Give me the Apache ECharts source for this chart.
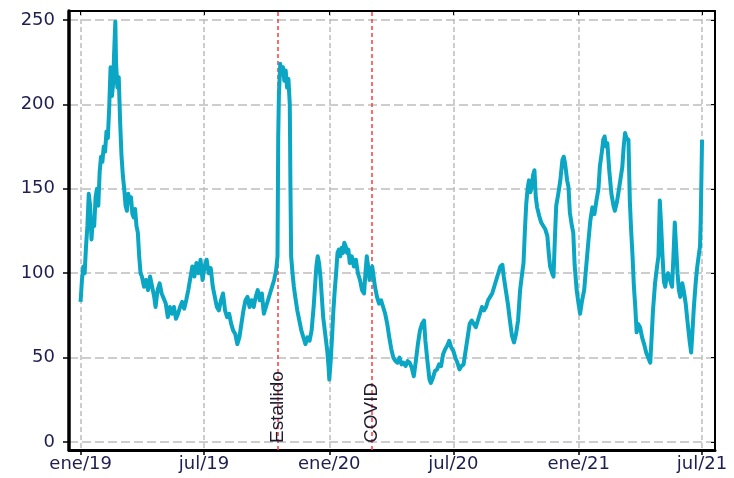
<!DOCTYPE html>
<html>
<head>
<meta charset="utf-8">
<title>Índice diario</title>
<script src="https://cdn.jsdelivr.net/npm/echarts@6/dist/echarts.min.js"></script>
<style>
  html, body { margin: 0; padding: 0; background: #ffffff; }
  #chart { width: 734px; height: 478px; }
</style>
</head>
<body>
<div id="chart"></div>
<script>
// Daily index readings, one array of [date, value] per year
const serie2019 = [
  ['2019-01-01',83],['2019-01-03',96],['2019-01-05',104],['2019-01-07',100],['2019-01-09',116],['2019-01-11',128],
  ['2019-01-13',147],['2019-01-15',140],['2019-01-17',120],['2019-01-19',132],['2019-01-21',128],['2019-01-23',145],
  ['2019-01-25',150],['2019-01-27',140],['2019-01-29',160],['2019-01-31',169],['2019-02-02',166],['2019-02-04',175],
  ['2019-02-06',172],['2019-02-08',184],['2019-02-10',180],['2019-02-12',198],['2019-02-14',222],['2019-02-16',205],
  ['2019-02-18',213],['2019-02-19',228],['2019-02-21',249],['2019-02-22',225],['2019-02-24',210],['2019-02-26',216],
  ['2019-02-28',190],['2019-03-02',170],['2019-03-04',158],['2019-03-06',150],['2019-03-08',140],['2019-03-10',137],
  ['2019-03-12',147],['2019-03-14',142],['2019-03-16',145],['2019-03-18',135],['2019-03-20',133],['2019-03-22',138],
  ['2019-03-24',128],['2019-03-26',124],['2019-03-28',110],['2019-03-30',100],['2019-04-01',98],['2019-04-04',92],
  ['2019-04-07',96],['2019-04-10',90],['2019-04-13',98],['2019-04-16',92],['2019-04-19',86],['2019-04-21',80],
  ['2019-04-24',90],['2019-04-27',94],['2019-04-30',88],['2019-05-03',85],['2019-05-06',82],['2019-05-09',74],
  ['2019-05-12',80],['2019-05-15',76],['2019-05-18',80],['2019-05-21',73],['2019-05-24',76],['2019-05-27',80],
  ['2019-05-30',83],['2019-06-02',79],['2019-06-05',84],['2019-06-08',90],['2019-06-11',97],['2019-06-14',104],
  ['2019-06-17',98],['2019-06-20',106],['2019-06-23',100],['2019-06-26',108],['2019-06-29',96],['2019-07-02',104],
  ['2019-07-05',108],['2019-07-08',100],['2019-07-11',103],['2019-07-14',92],['2019-07-17',86],['2019-07-20',80],
  ['2019-07-23',78],['2019-07-26',84],['2019-07-29',88],['2019-08-01',78],['2019-08-04',74],['2019-08-07',76],
  ['2019-08-10',70],['2019-08-13',66],['2019-08-16',64],['2019-08-19',58],['2019-08-22',62],['2019-08-25',70],
  ['2019-08-28',78],['2019-08-31',84],['2019-09-03',86],['2019-09-06',80],['2019-09-09',84],['2019-09-12',80],
  ['2019-09-15',86],['2019-09-18',90],['2019-09-21',84],['2019-09-24',88],['2019-09-27',76],['2019-09-30',80],
  ['2019-10-03',84],['2019-10-06',88],['2019-10-09',92],['2019-10-12',96],['2019-10-15',102],['2019-10-17',110],
  ['2019-10-18',180],['2019-10-19',205],['2019-10-21',224],['2019-10-23',218],['2019-10-25',222],['2019-10-27',214],
  ['2019-10-29',220],['2019-10-31',210],['2019-11-02',215],['2019-11-04',200],['2019-11-05',150],['2019-11-06',110],
  ['2019-11-08',100],['2019-11-10',92],['2019-11-12',86],['2019-11-15',78],['2019-11-18',72],['2019-11-21',66],
  ['2019-11-24',62],['2019-11-27',58],['2019-11-30',62],['2019-12-03',60],['2019-12-06',66],['2019-12-09',80],
  ['2019-12-11',92],['2019-12-13',104],['2019-12-15',110],['2019-12-17',106],['2019-12-19',98],['2019-12-21',86],
  ['2019-12-23',74],['2019-12-26',64],['2019-12-29',54],['2019-12-31',44]
];
const serie2020 = [
  ['2020-01-01',37],['2020-01-03',48],['2020-01-05',62],['2020-01-07',78],['2020-01-09',90],['2020-01-11',100],
  ['2020-01-13',112],['2020-01-15',114],['2020-01-17',110],['2020-01-19',115],['2020-01-21',112],['2020-01-23',118],
  ['2020-01-25',116],['2020-01-27',112],['2020-01-29',114],['2020-01-31',106],['2020-02-03',110],['2020-02-06',104],
  ['2020-02-09',108],['2020-02-12',100],['2020-02-15',96],['2020-02-18',90],['2020-02-21',88],['2020-02-23',100],
  ['2020-02-25',110],['2020-02-27',104],['2020-02-29',96],['2020-03-02',100],['2020-03-04',104],['2020-03-06',98],
  ['2020-03-08',92],['2020-03-11',86],['2020-03-14',82],['2020-03-17',84],['2020-03-20',80],['2020-03-23',76],
  ['2020-03-26',70],['2020-03-29',62],['2020-04-01',55],['2020-04-04',50],['2020-04-07',48],['2020-04-10',47],
  ['2020-04-13',50],['2020-04-16',46],['2020-04-19',47],['2020-04-22',45],['2020-04-25',48],['2020-04-28',47],
  ['2020-05-01',44],['2020-05-04',39],['2020-05-07',48],['2020-05-10',58],['2020-05-13',66],['2020-05-16',70],
  ['2020-05-19',72],['2020-05-21',60],['2020-05-24',48],['2020-05-27',37],['2020-05-29',35],['2020-06-01',38],
  ['2020-06-04',42],['2020-06-07',43],['2020-06-10',46],['2020-06-13',45],['2020-06-16',52],['2020-06-19',55],
  ['2020-06-22',57],['2020-06-25',60],['2020-06-28',56],['2020-07-01',54],['2020-07-04',50],['2020-07-07',47],
  ['2020-07-10',43],['2020-07-13',45],['2020-07-16',46],['2020-07-19',54],['2020-07-22',62],['2020-07-25',70],
  ['2020-07-28',72],['2020-07-31',70],['2020-08-03',68],['2020-08-06',72],['2020-08-09',76],['2020-08-12',80],
  ['2020-08-15',78],['2020-08-18',80],['2020-08-21',84],['2020-08-24',86],['2020-08-27',88],['2020-08-30',92],
  ['2020-09-02',96],['2020-09-05',100],['2020-09-08',104],['2020-09-11',105],['2020-09-13',98],['2020-09-16',90],
  ['2020-09-19',82],['2020-09-22',72],['2020-09-25',63],['2020-09-28',59],['2020-10-01',64],['2020-10-04',72],
  ['2020-10-07',90],['2020-10-10',100],['2020-10-12',106],['2020-10-14',125],['2020-10-16',141],['2020-10-18',150],
  ['2020-10-20',155],['2020-10-22',148],['2020-10-24',151],['2020-10-26',158],['2020-10-28',161],['2020-10-30',145],
  ['2020-11-01',139],['2020-11-04',134],['2020-11-07',130],['2020-11-10',128],['2020-11-13',126],['2020-11-16',122],
  ['2020-11-18',112],['2020-11-20',104],['2020-11-23',100],['2020-11-25',98],['2020-11-27',120],['2020-11-29',140],
  ['2020-12-02',147],['2020-12-05',155],['2020-12-08',167],['2020-12-10',169],['2020-12-12',165],['2020-12-15',155],
  ['2020-12-17',151],['2020-12-19',136],['2020-12-22',128],['2020-12-24',124],['2020-12-26',105],['2020-12-29',90],
  ['2020-12-31',84]
];
const serie2021 = [
  ['2021-01-03',76],['2021-01-06',84],['2021-01-09',90],['2021-01-12',104],['2021-01-15',118],['2021-01-18',131],
  ['2021-01-21',139],['2021-01-24',135],['2021-01-27',143],['2021-01-30',150],['2021-02-01',163],['2021-02-04',172],
  ['2021-02-06',179],['2021-02-08',181],['2021-02-10',175],['2021-02-12',177],['2021-02-15',160],['2021-02-18',147],
  ['2021-02-21',140],['2021-02-23',137],['2021-02-26',142],['2021-02-28',147],['2021-03-03',155],['2021-03-06',163],
  ['2021-03-08',175],['2021-03-10',183],['2021-03-12',180],['2021-03-15',179],['2021-03-17',143],['2021-03-19',125],
  ['2021-03-21',110],['2021-03-23',92],['2021-03-25',80],['2021-03-27',65],['2021-03-29',70],['2021-04-01',68],
  ['2021-04-04',62],['2021-04-07',58],['2021-04-10',53],['2021-04-13',50],['2021-04-16',47],['2021-04-18',62],
  ['2021-04-20',78],['2021-04-23',94],['2021-04-26',104],['2021-04-28',110],['2021-04-30',143],['2021-05-02',128],
  ['2021-05-04',110],['2021-05-06',95],['2021-05-08',92],['2021-05-10',98],['2021-05-12',100],['2021-05-15',96],
  ['2021-05-18',92],['2021-05-20',110],['2021-05-22',130],['2021-05-24',115],['2021-05-26',100],['2021-05-28',90],
  ['2021-05-30',86],['2021-06-02',94],['2021-06-04',90],['2021-06-07',82],['2021-06-10',70],['2021-06-13',59],
  ['2021-06-15',53],['2021-06-17',66],['2021-06-19',80],['2021-06-22',96],['2021-06-24',104],['2021-06-26',110],
  ['2021-06-28',116],['2021-06-29',130],['2021-07-01',179]
];

// Axis ticks and labels
const yTicks = [0, 50, 100, 150, 200, 250];
const xTickDates = ['2019-01-01', '2019-07-01', '2020-01-01', '2020-07-01', '2021-01-01', '2021-07-01'];
const xTickLabels = ['ene/19', 'jul/19', 'ene/20', 'jul/20', 'ene/21', 'jul/21'];

// Event markers
const eventos = ['Estallido', 'COVID'];
const eventFechas = ['2019-10-18', '2020-03-03'];

// Dates are placed on a numeric axis as UTC milliseconds
function ts(s) {
  const [y, m, d] = s.split('-').map(Number);
  return Date.UTC(y, m - 1, d);
}
const xTickTimes = xTickDates.map(ts);
function xLabel(value) {
  let best = 0;
  for (let i = 1; i < xTickTimes.length; i++) {
    if (Math.abs(xTickTimes[i] - value) < Math.abs(xTickTimes[best] - value)) best = i;
  }
  return xTickLabels[best];
}

const puntos = serie2019.concat(serie2020, serie2021).map(([f, v]) => [ts(f), v]);

const labelFont = { fontFamily: 'DejaVu Sans', fontSize: 18, color: '#1e1e50' };
const xMin = ts('2018-12-15');
const xMax = ts('2021-07-20');
const yMin = -4.7;
const yMax = 255.3;

const chart = echarts.init(document.getElementById('chart'), null, { renderer: 'canvas' });
chart.setOption({
  animation: false,
  backgroundColor: '#ffffff',
  grid: { left: 69, right: 19, top: 11, bottom: 28, containLabel: false },
  xAxis: [
    {
      type: 'value',
      position: 'bottom',
      min: xMin,
      max: xMax,
      axisLine: { show: true, onZero: false, lineStyle: { color: '#000', width: 3 } },
      axisTick: { show: true, inside: false, length: 5, customValues: xTickTimes, lineStyle: { color: '#000', width: 1.5 } },
      axisLabel: { show: true, customValues: xTickTimes, margin: 5, formatter: xLabel, ...labelFont },
      splitLine: { show: true, lineStyle: { color: '#bdbdbd', width: 1.5, type: [5, 3] } }
    },
    {
      type: 'value',
      position: 'top',
      min: xMin,
      max: xMax,
      axisLine: { show: true, onZero: false, lineStyle: { color: '#000', width: 2 } },
      axisTick: { show: true, inside: true, length: 4, customValues: xTickTimes, lineStyle: { color: '#000', width: 1 } },
      axisLabel: { show: false },
      splitLine: { show: false }
    }
  ],
  yAxis: [
    {
      type: 'value',
      position: 'left',
      min: yMin,
      max: yMax,
      axisLine: { show: true, onZero: false, lineStyle: { color: '#000', width: 3.5 } },
      axisTick: { show: true, inside: false, length: 6, customValues: yTicks, lineStyle: { color: '#000', width: 1.5 } },
      axisLabel: { show: true, customValues: yTicks, margin: 14, ...labelFont },
      splitLine: { show: true, lineStyle: { color: '#bdbdbd', width: 1.5, type: [9, 4] } }
    },
    {
      type: 'value',
      position: 'right',
      min: yMin,
      max: yMax,
      axisLine: { show: true, onZero: false, lineStyle: { color: '#000', width: 2 } },
      axisTick: { show: true, inside: true, length: 4, customValues: yTicks, lineStyle: { color: '#000', width: 1 } },
      axisLabel: { show: false },
      splitLine: { show: false }
    }
  ],
  series: [
    {
      type: 'line',
      xAxisIndex: 0,
      yAxisIndex: 0,
      data: puntos,
      showSymbol: false,
      symbol: 'none',
      lineStyle: { color: '#0aa6c4', width: 4, join: 'round' },
      z: 5,
      markLine: {
        silent: true,
        symbol: 'none',
        animation: false,
        lineStyle: { color: '#ff3b3b', width: 1.5, type: [4, 3] },
        label: {
          show: true,
          position: 'insideStart',
          distance: 7,
          fontFamily: 'Liberation Sans',
          fontSize: 19,
          color: '#1c1c30',
          formatter: p => p.name
        },
        data: eventos.map((n, i) => ({ name: n, xAxis: ts(eventFechas[i]) }))
      }
    }
  ]
});
</script>
</body>
</html>
